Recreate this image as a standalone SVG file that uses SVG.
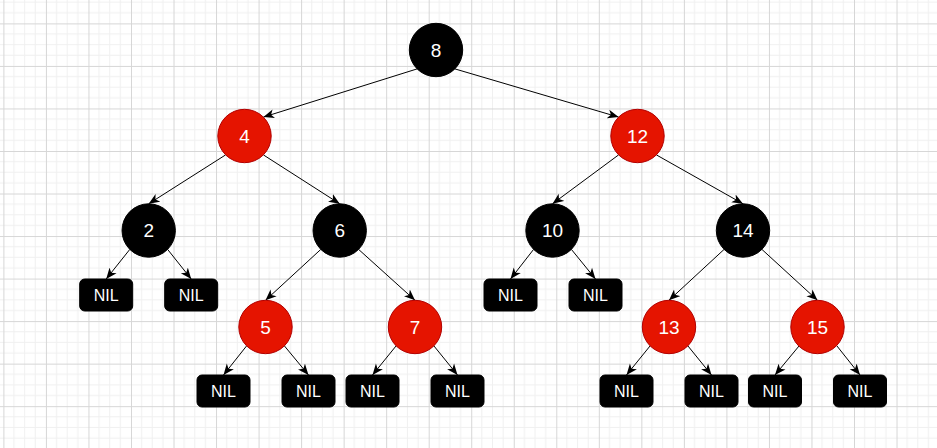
<svg xmlns="http://www.w3.org/2000/svg" width="937" height="448" viewBox="0 0 937 448">
<style>
.blk{fill:#000000;stroke:#000000;stroke-width:1}
.red{fill:#e51400;stroke:#b20000;stroke-width:1}
.nil{fill:#000000;stroke:#000000;stroke-width:1}
.lbl{fill:#ffffff;font-family:"Liberation Sans",Arial,sans-serif;font-size:19px;text-anchor:middle;dominant-baseline:central}
.nl{fill:#ffffff;font-family:"Liberation Sans",Arial,sans-serif;font-size:16px;text-anchor:middle;dominant-baseline:central}
.edge{stroke:#000000;stroke-width:1;fill:none;marker-end:url(#arr)}
</style>
<defs>
<pattern id="grid" patternUnits="userSpaceOnUse" x="3.4" y="23.4" width="42.53" height="42.53">
<path d="M10.63,0V42.53M21.27,0V42.53M31.9,0V42.53M0,10.63H42.53M0,21.27H42.53M0,31.9H42.53" stroke="#f0f0f0" stroke-width="1" fill="none"/>
<path d="M0.5,0V42.53M0,0.5H42.53" stroke="#d6d6d6" stroke-width="1" fill="none"/>
</pattern>
<marker id="arr" markerUnits="userSpaceOnUse" markerWidth="12" markerHeight="10" refX="11" refY="4.5" orient="auto" viewBox="0 0 12 9">
<path d="M0,0 L11,4.5 L0,9 L3,4.5 Z" fill="#000000"/>
</marker>
</defs>
<rect width="937" height="448" fill="#ffffff"/>
<rect width="937" height="448" fill="url(#grid)"/>
<g id="connectors">
<line class="edge" x1="417.1" y1="68.9" x2="263.4" y2="117.1"/>
<line class="edge" x1="454.9" y1="68.9" x2="618.6" y2="117.1"/>
<line class="edge" x1="225.6" y1="154.9" x2="148.7" y2="203.8"/>
<line class="edge" x1="263.4" y1="154.9" x2="339.7" y2="203.8"/>
<line class="edge" x1="618.6" y1="154.9" x2="552.5" y2="203.8"/>
<line class="edge" x1="656.4" y1="154.9" x2="743" y2="203.8"/>
<line class="edge" x1="129.8" y1="249.4" x2="106.2" y2="279"/>
<line class="edge" x1="167.6" y1="249.4" x2="191.2" y2="279"/>
<line class="edge" x1="320.8" y1="249.4" x2="265.5" y2="300.3"/>
<line class="edge" x1="358.6" y1="249.4" x2="415" y2="300.3"/>
<line class="edge" x1="533.6" y1="249.4" x2="510.5" y2="279"/>
<line class="edge" x1="571.4" y1="249.4" x2="595.5" y2="279"/>
<line class="edge" x1="724.1" y1="249.4" x2="669" y2="300.3"/>
<line class="edge" x1="761.9" y1="249.4" x2="817.5" y2="300.3"/>
<line class="edge" x1="246.6" y1="345.9" x2="223.5" y2="375"/>
<line class="edge" x1="284.4" y1="345.9" x2="308.5" y2="375"/>
<line class="edge" x1="396.1" y1="345.9" x2="372.5" y2="375"/>
<line class="edge" x1="433.9" y1="345.9" x2="457.5" y2="375"/>
<line class="edge" x1="650.1" y1="345.9" x2="626.5" y2="375"/>
<line class="edge" x1="687.9" y1="345.9" x2="711.5" y2="375"/>
<line class="edge" x1="799.1" y1="345.9" x2="775" y2="375"/>
<line class="edge" x1="836.9" y1="345.9" x2="860" y2="375"/>
</g>
<g id="n8"><circle class="blk" cx="436" cy="50" r="26.7"/><text class="lbl" x="436" y="50">8</text></g>
<g id="n4"><circle class="red" cx="244.5" cy="136" r="26.7"/><text class="lbl" x="244.5" y="136">4</text></g>
<g id="n12"><circle class="red" cx="637.5" cy="136" r="26.7"/><text class="lbl" x="637.5" y="136">12</text></g>
<g id="n2"><circle class="blk" cx="148.7" cy="230.5" r="26.7"/><text class="lbl" x="148.7" y="230.5">2</text></g>
<g id="n6"><circle class="blk" cx="339.7" cy="230.5" r="26.7"/><text class="lbl" x="339.7" y="230.5">6</text></g>
<g id="n10"><circle class="blk" cx="552.5" cy="230.5" r="26.7"/><text class="lbl" x="552.5" y="230.5">10</text></g>
<g id="n14"><circle class="blk" cx="743" cy="230.5" r="26.7"/><text class="lbl" x="743" y="230.5">14</text></g>
<g id="n5"><circle class="red" cx="265.5" cy="327" r="26.7"/><text class="lbl" x="265.5" y="327">5</text></g>
<g id="n7"><circle class="red" cx="415" cy="327" r="26.7"/><text class="lbl" x="415" y="327">7</text></g>
<g id="n13"><circle class="red" cx="669" cy="327" r="26.7"/><text class="lbl" x="669" y="327">13</text></g>
<g id="n15"><circle class="red" cx="817.5" cy="327" r="26.7"/><text class="lbl" x="817.5" y="327">15</text></g>
<g id="nil2a"><rect class="nil" x="79.7" y="279" width="53" height="32" rx="5"/><text class="nl" x="106.2" y="295">NIL</text></g>
<g id="nil2b"><rect class="nil" x="164.7" y="279" width="53" height="32" rx="5"/><text class="nl" x="191.2" y="295">NIL</text></g>
<g id="nil10a"><rect class="nil" x="484" y="279" width="53" height="32" rx="5"/><text class="nl" x="510.5" y="295">NIL</text></g>
<g id="nil10b"><rect class="nil" x="569" y="279" width="53" height="32" rx="5"/><text class="nl" x="595.5" y="295">NIL</text></g>
<g id="nil5a"><rect class="nil" x="197" y="375" width="53" height="32" rx="5"/><text class="nl" x="223.5" y="391">NIL</text></g>
<g id="nil5b"><rect class="nil" x="282" y="375" width="53" height="32" rx="5"/><text class="nl" x="308.5" y="391">NIL</text></g>
<g id="nil7a"><rect class="nil" x="346" y="375" width="53" height="32" rx="5"/><text class="nl" x="372.5" y="391">NIL</text></g>
<g id="nil7b"><rect class="nil" x="431" y="375" width="53" height="32" rx="5"/><text class="nl" x="457.5" y="391">NIL</text></g>
<g id="nil13a"><rect class="nil" x="600" y="375" width="53" height="32" rx="5"/><text class="nl" x="626.5" y="391">NIL</text></g>
<g id="nil13b"><rect class="nil" x="685" y="375" width="53" height="32" rx="5"/><text class="nl" x="711.5" y="391">NIL</text></g>
<g id="nil15a"><rect class="nil" x="748.5" y="375" width="53" height="32" rx="5"/><text class="nl" x="775" y="391">NIL</text></g>
<g id="nil15b"><rect class="nil" x="833.5" y="375" width="53" height="32" rx="5"/><text class="nl" x="860" y="391">NIL</text></g>
</svg>
